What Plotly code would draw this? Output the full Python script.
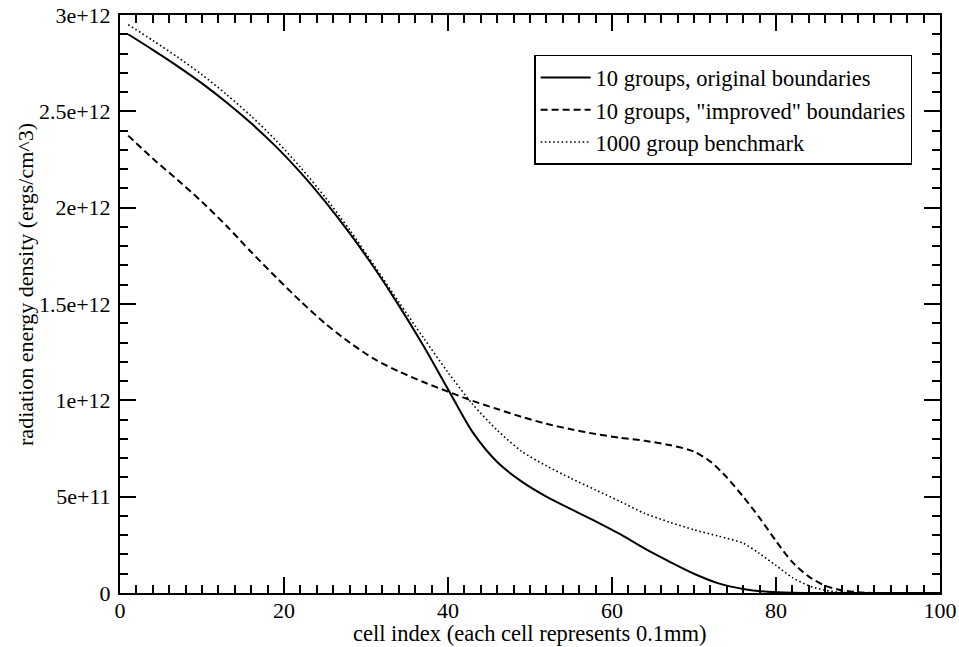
import plotly.graph_objects as go

# --- data (cell index, radiation energy density in ergs/cm^3) ---
x_orig = [1, 4, 7, 10, 13, 16, 19, 22, 25, 28, 31, 34, 37, 40, 43, 46, 49, 52, 55, 58,
          61, 64, 67, 70, 73, 76, 79, 82, 85, 100]
y_orig = [2.900e12, 2.819e12, 2.735e12, 2.645e12, 2.546e12, 2.438e12, 2.318e12,
          2.183e12, 2.033e12, 1.868e12, 1.688e12, 1.493e12, 1.283e12, 1.058e12,
          0.835e12, 0.680e12, 0.578e12, 0.500e12, 0.435e12, 0.372e12, 0.305e12,
          0.230e12, 0.163e12, 0.100e12, 0.050e12, 0.021e12, 0.006e12, 0.001e12,
          0.0, 0.0]

x_impr = [1, 4, 7, 10, 13, 16, 19, 22, 25, 28, 31, 34, 37, 40, 43, 46, 49, 52, 55, 58,
          61, 64, 67, 70, 72, 74, 76, 78, 80, 82, 84, 86, 88, 90, 92, 100]
y_impr = [2.374e12, 2.255e12, 2.145e12, 2.030e12, 1.905e12, 1.770e12, 1.640e12,
          1.515e12, 1.400e12, 1.300e12, 1.215e12, 1.150e12, 1.095e12, 1.045e12,
          0.997e12, 0.955e12, 0.914e12, 0.878e12, 0.850e12, 0.825e12, 0.806e12,
          0.790e12, 0.768e12, 0.734e12, 0.682e12, 0.600e12, 0.500e12, 0.390e12,
          0.270e12, 0.160e12, 0.085e12, 0.038e12, 0.014e12, 0.004e12, 0.0, 0.0]

x_bench = [1, 4, 7, 10, 13, 16, 19, 22, 25, 28, 31, 34, 37, 40, 43, 46, 49, 52, 55, 58,
           61, 64, 67, 70, 73, 76, 78, 80, 82, 84, 86, 88, 90, 100]
y_bench = [2.950e12, 2.868e12, 2.782e12, 2.690e12, 2.587e12, 2.475e12, 2.350e12,
           2.210e12, 2.055e12, 1.885e12, 1.700e12, 1.510e12, 1.325e12, 1.145e12,
           0.980e12, 0.845e12, 0.735e12, 0.660e12, 0.595e12, 0.535e12, 0.475e12,
           0.413e12, 0.368e12, 0.328e12, 0.295e12, 0.258e12, 0.205e12, 0.143e12,
           0.080e12, 0.038e12, 0.014e12, 0.003e12, 0.0, 0.0]

names = ['10 groups, original boundaries',
         '10 groups, "improved" boundaries',
         '1000 group benchmark']

y_tickvals = [0, 5e11, 1e12, 1.5e12, 2e12, 2.5e12, 3e12]
y_ticktext = ['0', '5e+11', '1e+12', '1.5e+12', '2e+12', '2.5e+12', '3e+12']
x_tickvals = [0, 20, 40, 60, 80, 100]

FONT = 'Liberation Serif, Times New Roman, serif'

fig = go.Figure()
fig.add_trace(go.Scatter(x=x_orig, y=y_orig, mode='lines', name=names[0],
                         line=dict(color='black', width=2, shape='spline', smoothing=0.8)))
fig.add_trace(go.Scatter(x=x_impr, y=y_impr, mode='lines', name=names[1],
                         line=dict(color='black', width=2, dash='7px,4px',
                                   shape='spline', smoothing=0.8)))
fig.add_trace(go.Scatter(x=x_bench, y=y_bench, mode='lines', name=names[2],
                         line=dict(color='black', width=1.6, dash='1.6px,2.6px',
                                   shape='spline', smoothing=0.8)))

axis_common = dict(
    showline=True, linecolor='black', linewidth=2, mirror='ticks',
    ticks='inside', ticklen=16, tickwidth=2, tickcolor='black',
    showgrid=False, zeroline=False, automargin=False,
    tickfont=dict(family=FONT, size=22, color='black'),
)

fig.update_xaxes(range=[0, 100], tickmode='array', tickvals=x_tickvals,
                 ticklabelstandoff=-3,
                 minor=dict(dtick=2, tick0=0, ticks='inside', ticklen=8, tickwidth=2,
                            tickcolor='black', showgrid=False),
                 **axis_common)
fig.update_yaxes(range=[0, 3e12], tickmode='array', tickvals=y_tickvals,
                 ticktext=y_ticktext, ticklabelstandoff=3,
                 minor=dict(dtick=1e11, tick0=0, ticks='inside', ticklen=8, tickwidth=2,
                            tickcolor='black', showgrid=False),
                 **axis_common)

fig.add_annotation(text='radiation energy density (ergs/cm^3)', textangle=-90,
                   xref='paper', yref='paper', x=-0.1146, y=0.533,
                   xanchor='center', yanchor='middle', showarrow=False,
                   font=dict(family=FONT, size=22, color='black'))
fig.add_annotation(text='cell index (each cell represents 0.1mm)',
                   xref='paper', yref='paper', x=0.5, y=-0.0709,
                   xanchor='center', yanchor='middle', showarrow=False, borderpad=0,
                   font=dict(family=FONT, size=22.5, color='black'))

fig.update_layout(
    width=959, height=647,
    margin=dict(l=120, r=19, t=15, b=54),
    paper_bgcolor='white', plot_bgcolor='white',
    font=dict(family=FONT, size=22, color='black'),
    legend=dict(x=0.966, y=0.931, xanchor='right', yanchor='top',
                bgcolor='white', bordercolor='black', borderwidth=1.5,
                font=dict(family=FONT, size=22.5, color='black'),
                itemwidth=50, tracegroupgap=0),
    showlegend=True,
)

fig.write_html('out.html')
